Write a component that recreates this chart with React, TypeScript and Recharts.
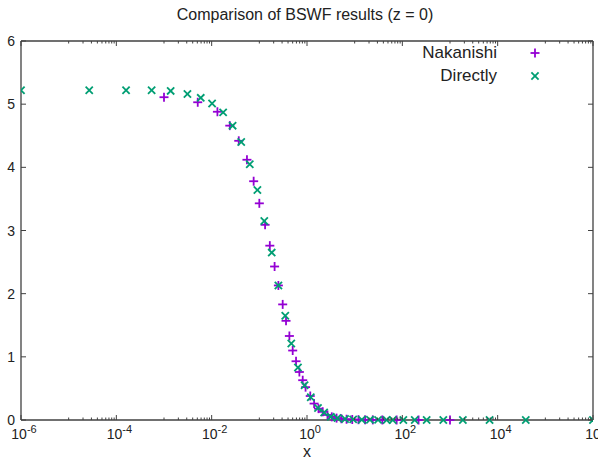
import { ScatterChart, Scatter, XAxis, YAxis, Legend, ReferenceLine } from "recharts";

// values (x on a log axis)
const nakanishiX = [
  1e-3, 5.1e-3, 1.32e-2, 2.4e-2, 3.7e-2, 5.5e-2, 7.6e-2, 0.1, 0.132, 0.166,
  0.209, 0.251, 0.309, 0.363, 0.427, 0.501, 0.589, 0.692, 0.813, 0.933,
  1.17, 1.41, 1.74, 2.14, 2.69, 3.31, 4.17, 5.25, 6.76, 8.9,
  12, 16.6, 24, 38, 76, 219, 1000,
];
const nakanishiY = [
  5.11, 5.03, 4.88, 4.66, 4.42, 4.12, 3.78, 3.43, 3.09, 2.76,
  2.43, 2.13, 1.83, 1.57, 1.33, 1.1, 0.93, 0.76, 0.63, 0.52,
  0.38, 0.26, 0.18, 0.13, 0.08, 0.05, 0.03, 0.02, 0.012, 0.008,
  0.005, 0.003, 0.002, 0.001, 0, 0, 0,
];

const directlyX = [
  1e-6, 2.7e-5, 1.6e-4, 5.5e-4, 1.38e-3, 3.1e-3, 5.9e-3, 1.02e-2, 1.74e-2, 2.75e-2,
  4.17e-2, 6.3e-2, 9.1e-2, 0.127, 0.182, 0.251, 0.35, 0.468, 0.646, 0.89,
  1.2, 1.7, 2.29, 3.16, 4.37, 6.3, 9.3, 14.1, 20.9, 30.9,
  46.8, 63, 105, 182, 324, 724, 1862, 6760, 38900, 1e6,
];
const directlyY = [
  5.22, 5.22, 5.22, 5.22, 5.21, 5.16, 5.1, 5.01, 4.87, 4.66,
  4.4, 4.05, 3.64, 3.15, 2.65, 2.13, 1.65, 1.21, 0.83, 0.55,
  0.36, 0.19, 0.12, 0.05, 0.03, 0.015, 0.01, 0.005, 0.003, 0.002,
  0.001, 0, 0, 0, 0, 0, 0, 0, 0, 0,
];

const yTicks = [0, 1, 2, 3, 4, 5, 6];
const xMajorTicks = [1e-6, 1e-4, 1e-2, 1, 1e2, 1e4, 1e6];
const xMajorExp = ["-6", "-4", "-2", "0", "2", "4", "6"];
const xMinorBases = [1e-5, 1e-3, 1e-1, 1e1, 1e3, 1e5];
const xMinorTicks: number[] = [];
xMinorBases.forEach((b) => {
  for (let k = 1; k <= 9; k++) xMinorTicks.push(b * k);
});
const xTicks = [...xMajorTicks, ...xMinorTicks].sort((a, b) => a - b);

const nakanishi = nakanishiX.map((x, i) => ({ x, y: nakanishiY[i] }));
const directly = directlyX.map((x, i) => ({ x, y: directlyY[i] }));

const W = 598;
const H = 460;
const PLOT_LEFT = 21;
const PLOT_RIGHT = 593;
const PLOT_TOP = 41;
const PLOT_BOTTOM = 420;

const PURPLE = "#9400d3";
const GREEN = "#009e73";
const BORDER = "#404040";
const FONT = "'Liberation Sans', Arial, sans-serif";

const Plus = (props: any) => {
  const { cx, cy } = props;
  if (cx == null || cy == null) return null;
  return (
    <g stroke={PURPLE} strokeWidth={1.8}>
      <line x1={cx - 4.5} x2={cx + 4.5} y1={cy} y2={cy} />
      <line x1={cx} x2={cx} y1={cy - 4.5} y2={cy + 4.5} />
    </g>
  );
};

const Cross = (props: any) => {
  const { cx, cy } = props;
  if (cx == null || cy == null) return null;
  return (
    <g stroke={GREEN} strokeWidth={1.8}>
      <line x1={cx - 3.6} x2={cx + 3.6} y1={cy - 3.6} y2={cy + 3.6} />
      <line x1={cx - 3.6} x2={cx + 3.6} y1={cy + 3.6} y2={cy - 3.6} />
    </g>
  );
};

const XTick = (props: any) => {
  const { x, payload } = props;
  const idx = xMajorTicks.indexOf(payload.value);
  const len = idx >= 0 ? 5 : 2.5;
  return (
    <g>
      <line x1={x} x2={x} y1={PLOT_BOTTOM} y2={PLOT_BOTTOM - len} stroke={BORDER} />
      <line x1={x} x2={x} y1={PLOT_TOP} y2={PLOT_TOP + len} stroke={BORDER} />
      {idx >= 0 && (
        <text x={x + 3} y={PLOT_BOTTOM + 19} textAnchor="middle" fontSize={14} fill="#222" fontFamily={FONT}>
          10
          <tspan dy={-6} fontSize={11}>
            {xMajorExp[idx]}
          </tspan>
        </text>
      )}
    </g>
  );
};

const YTick = (props: any) => {
  const { y, payload } = props;
  return (
    <g>
      <line x1={PLOT_LEFT} x2={PLOT_LEFT + 5} y1={y} y2={y} stroke={BORDER} />
      <line x1={PLOT_RIGHT} x2={PLOT_RIGHT - 5} y1={y} y2={y} stroke={BORDER} />
      <text x={PLOT_LEFT - 6} y={y + 5} textAnchor="end" fontSize={14} fill="#222" fontFamily={FONT}>
        {payload.value}
      </text>
    </g>
  );
};

const LegendBox = () => {
  const rows = [
    { name: "Nakanishi", mark: "plus" },
    { name: "Directly", mark: "cross" },
  ];
  return (
    <div style={{ fontFamily: FONT, fontSize: 17, color: "#222" }}>
      {rows.map((r) => (
        <div key={r.name} style={{ display: "flex", justifyContent: "flex-end", alignItems: "center", height: 23 }}>
          <span>{r.name}</span>
          <svg width={20} height={20} style={{ marginLeft: 28 }}>
            {r.mark === "plus" ? <Plus cx={10} cy={10} /> : <Cross cx={10} cy={10} />}
          </svg>
        </div>
      ))}
    </div>
  );
};

export default function App() {
  return (
    <div style={{ position: "absolute", left: 0, top: 0, width: W, height: H, background: "#fff" }}>
      <div
        style={{
          position: "absolute",
          top: 6,
          left: 0,
          width: 610,
          textAlign: "center",
          fontFamily: FONT,
          fontSize: 16,
          color: "#222",
        }}
      >
        Comparison of BSWF results (z = 0)
      </div>
      <ScatterChart
        width={W}
        height={H}
        margin={{ top: PLOT_TOP, right: W - PLOT_RIGHT, bottom: 0, left: 0 }}
      >
        <XAxis
          dataKey="x"
          type="number"
          scale="log"
          domain={[1e-6, 1e6]}
          allowDataOverflow
          ticks={xTicks}
          interval={0}
          tick={<XTick />}
          tickLine={false}
          axisLine={{ stroke: BORDER, strokeWidth: 1.3 }}
          height={H - PLOT_BOTTOM}
          label={{ value: "x", position: "insideBottom", offset: 3, fontSize: 16, fill: "#222", fontFamily: FONT }}
        />
        <YAxis
          dataKey="y"
          type="number"
          domain={[0, 6]}
          ticks={yTicks}
          interval={0}
          tick={<YTick />}
          tickLine={false}
          axisLine={{ stroke: BORDER, strokeWidth: 1.3 }}
          width={PLOT_LEFT}
        />
        <ReferenceLine y={6} stroke={BORDER} strokeWidth={1.3} />
        <ReferenceLine x={1e6} stroke={BORDER} strokeWidth={1.3} />
        <Legend
          layout="vertical"
          verticalAlign="middle"
          align="center"
          content={<LegendBox />}
          wrapperStyle={{ position: "absolute", top: 41, right: 53, left: "auto", width: "auto" }}
        />
        <Scatter name="Nakanishi" data={nakanishi} shape={<Plus />} isAnimationActive={false} />
        <Scatter name="Directly" data={directly} shape={<Cross />} isAnimationActive={false} />
      </ScatterChart>
    </div>
  );
}
